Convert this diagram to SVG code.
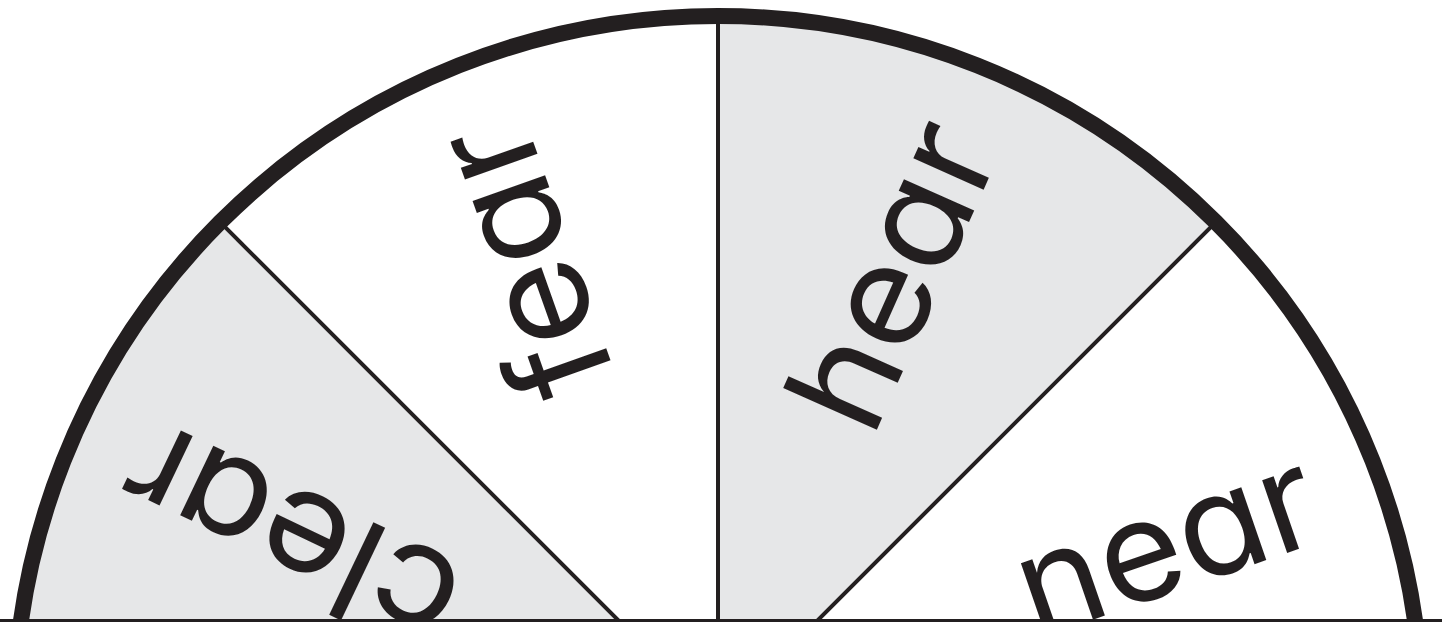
<svg xmlns="http://www.w3.org/2000/svg" width="1442" height="622" viewBox="0 0 1442 622">
  <style>
    .gray { fill: #E6E7E8; }
    .white { fill: #FFFFFF; }
    .div { stroke: #231F20; stroke-width: 4; fill: none; }
    .rim { stroke: #231F20; stroke-width: 16; fill: none; }
    .word { font-family: Inter, "DejaVu Sans", sans-serif; font-size: 141px; font-weight: 400; fill: #231F20; text-anchor: middle; font-feature-settings: "cv11"; }
  </style>
  <rect x="0" y="0" width="1442" height="622" fill="#FFFFFF"/>
  <g id="sector-clear">
    <path class="gray" d="M718,720 L14,720 A704,704 0 0,1 220.2,222.2 Z"/>
    <text class="word" transform="translate(312.2,493.1) rotate(-154.5)" x="0" y="0" textLength="354" lengthAdjust="spacingAndGlyphs">clear</text>
  </g>
  <g id="sector-fear">
    <path class="white" d="M718,720 L220.2,222.2 A704,704 0 0,1 718,16 Z"/>
    <text class="word" transform="translate(569.6,244.6) rotate(-109.5)" x="0" y="0" textLength="280" lengthAdjust="spacingAndGlyphs">fear</text>
  </g>
  <g id="sector-hear">
    <path class="gray" d="M718,720 L718,16 A704,704 0 0,1 1215.8,222.2 Z"/>
    <text class="word" transform="translate(936.8,294.7) rotate(-66)" x="0" y="0" textLength="318" lengthAdjust="spacingAndGlyphs">hear</text>
  </g>
  <g id="sector-near">
    <path class="white" d="M718,720 L1215.8,222.2 A704,704 0 0,1 1422,720 Z"/>
    <text class="word" transform="translate(1181.5,589.2) rotate(-19)" x="0" y="0" textLength="309" lengthAdjust="spacingAndGlyphs">near</text>
  </g>
  <g id="connectors">
    <line class="div" x1="718" y1="720" x2="220.2" y2="222.2"/>
    <line class="div" x1="718" y1="720" x2="718" y2="16"/>
    <line class="div" x1="718" y1="720" x2="1215.8" y2="222.2"/>
    <line x1="0" y1="620.5" x2="1442" y2="620.5" stroke="#231F20" stroke-width="3"/>
  </g>
  <g id="rim">
    <path class="rim" d="M14,720 A704,704 0 0,1 1422,720"/>
  </g>
</svg>
